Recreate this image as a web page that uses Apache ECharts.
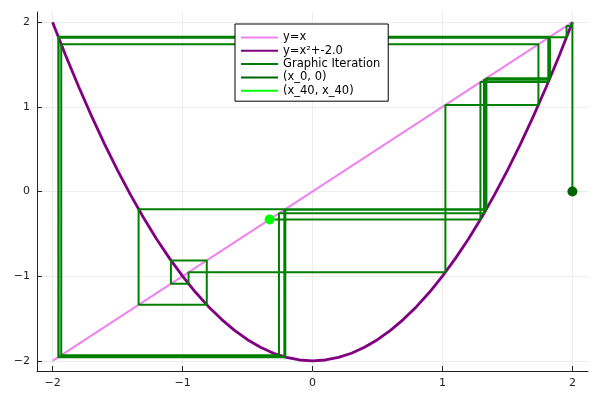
<!DOCTYPE html>
<html>
<head>
<meta charset="utf-8">
<script src="https://cdn.jsdelivr.net/npm/echarts@6/dist/echarts.min.js"></script>
<style>
html,body{margin:0;padding:0;background:#fff;}
#chart{width:600px;height:400px;}
</style>
</head>
<body>
<div id="chart"></div>
<script>
// ---- data ----
var tickValues = [-2, -1, 0, 1, 2];
var diagX = [-2, 2];
var diagY = [-2, 2];
var parabolaX = [-2.0,-1.9,-1.8,-1.7,-1.6,-1.5,-1.4,-1.3,-1.2,-1.1,-1.0,-0.9,-0.8,-0.7,-0.6,-0.5,-0.4,-0.3,-0.2,-0.1,0.0,
                 0.1,0.2,0.3,0.4,0.5,0.6,0.7,0.8,0.9,1.0,1.1,1.2,1.3,1.4,1.5,1.6,1.7,1.8,1.9,2.0];
var parabolaY = [2.0,1.61,1.24,0.89,0.56,0.25,-0.04,-0.31,-0.56,-0.79,-1.0,-1.19,-1.36,-1.51,-1.64,-1.75,-1.84,-1.91,-1.96,-1.99,-2.0,
                 -1.99,-1.96,-1.91,-1.84,-1.75,-1.64,-1.51,-1.36,-1.19,-1.0,-0.79,-0.56,-0.31,-0.04,0.25,0.56,0.89,1.24,1.61,2.0];
// orbit x_0 ... x_40
var orbit = [1.99996, 1.99982, 1.99929, 1.99716, 1.98865, 1.955,
             1.822, 1.3198, -0.2581, -1.9334, 1.7385, 1.0226,
             -0.954, -1.0893, -0.8135, -1.3383, -0.2091,
             -1.9563, 1.8271, 1.3383, -0.2091,
             -1.9563, 1.8271, 1.3383, -0.2091,
             -1.9563, 1.8271, 1.3383, -0.2091,
             -1.9563, 1.8271, 1.3381, -0.2095,
             -1.9561, 1.8263, 1.3354, -0.2166, -1.9531, 1.8145, 1.2923, -0.33];
var startPoint = [orbit[0], 0];
var endPoint = [orbit[40], orbit[40]];
var names = ['y=x', 'y=x\u00b2+-2.0', 'Graphic Iteration', '(x_0, 0)', '(x_40, x_40)'];
var colors = ['#ee82ee', '#800080', '#008000', '#006400', '#00ff00'];

// ---- build ----
function zip(a, b) { return a.map(function (v, i) { return [v, b[i]]; }); }
var cobweb = [[orbit[0], 0]];
for (var i = 0; i < orbit.length - 1; i++) {
  cobweb.push([orbit[i], orbit[i + 1]]);
  cobweb.push([orbit[i + 1], orbit[i + 1]]);
}
function fmt(v) { return String(v).replace('-', '\u2212'); }
var font = 'DejaVu Sans';
var gridLineStyle = { color: '#ececec', width: 1, type: 'solid' };

var chart = echarts.init(document.getElementById('chart'), null, { renderer: 'canvas' });
chart.setOption({
  animation: false,
  backgroundColor: '#fff',
  grid: { left: 37, right: 12, top: 12, bottom: 29, containLabel: false },
  xAxis: {
    type: 'value', min: -2.12, max: 2.12,
    axisLine: { show: true, onZero: false, lineStyle: { color: '#222', width: 1 } },
    axisTick: { show: true, inside: true, length: 5, customValues: tickValues, lineStyle: { color: '#222' } },
    axisLabel: { show: true, customValues: tickValues, formatter: fmt, color: '#222', fontFamily: font, fontSize: 11, margin: 7 },
    splitLine: { show: false }
  },
  yAxis: {
    type: 'value', min: -2.12, max: 2.12,
    axisLine: { show: true, onZero: false, lineStyle: { color: '#222', width: 1 } },
    axisTick: { show: true, inside: true, length: 5, customValues: tickValues, lineStyle: { color: '#222' } },
    axisLabel: { show: true, customValues: tickValues, formatter: fmt, color: '#222', fontFamily: font, fontSize: 11, margin: 7 },
    splitLine: { show: false }
  },
  legend: {
    orient: 'vertical', left: 235, top: 24, z: 10,
    backgroundColor: '#fff', borderColor: '#000', borderWidth: 1,
    padding: [7, 8, 4, 6], itemGap: 0.3, itemWidth: 37, itemHeight: 2,
    textStyle: { fontFamily: font, fontSize: 11.5, color: '#000', lineHeight: 13 },
    data: names.map(function (n) { return { name: n, icon: 'rect' }; })
  },
  series: [
    {
      name: names[0], type: 'line', data: zip(diagX, diagY), showSymbol: false, z: 2,
      lineStyle: { color: colors[0], width: 2 }, itemStyle: { color: colors[0] },
      markLine: {
        silent: true, symbol: 'none', z: 0, label: { show: false }, lineStyle: gridLineStyle,
        emphasis: { disabled: true },
        data: tickValues.map(function (v) { return { xAxis: v }; })
          .concat(tickValues.map(function (v) { return { yAxis: v }; }))
      }
    },
    {
      name: names[1], type: 'line', data: zip(parabolaX, parabolaY), showSymbol: false, z: 3,
      lineStyle: { color: colors[1], width: 2.8 }, itemStyle: { color: colors[1] }
    },
    {
      name: names[2], type: 'line', data: cobweb, showSymbol: false, z: 4,
      lineStyle: { color: colors[2], width: 2 }, itemStyle: { color: colors[2] }
    },
    {
      name: names[3], type: 'scatter', data: [startPoint], symbolSize: 10, z: 5,
      itemStyle: { color: colors[3], opacity: 1 }
    },
    {
      name: names[4], type: 'scatter', data: [endPoint], symbolSize: 10, z: 5,
      itemStyle: { color: colors[4], opacity: 1 }
    }
  ]
});
</script>
</body>
</html>
